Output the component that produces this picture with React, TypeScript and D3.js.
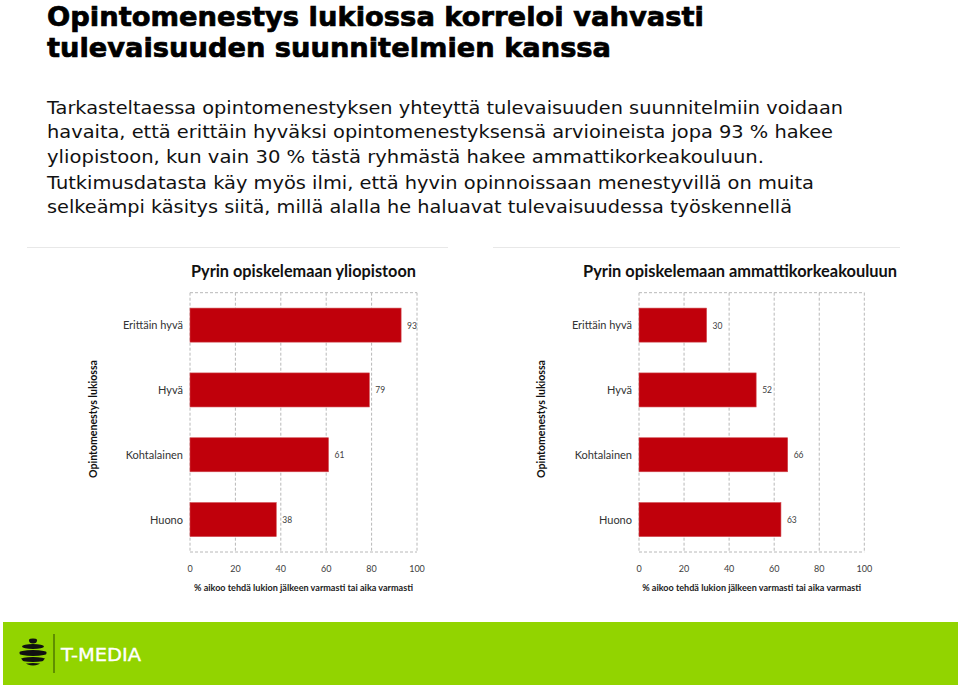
import React from "react";
import * as d3 from "d3";

const W = 960;
const H = 687;

const titleLines = [
  "Opintomenestys lukiossa korreloi vahvasti",
  "tulevaisuuden suunnitelmien kanssa",
];
const bodyLines = [
  "Tarkasteltaessa opintomenestyksen yhteyttä tulevaisuuden suunnitelmiin voidaan",
  "havaita, että erittäin hyväksi opintomenestyksensä arvioineista jopa 93 % hakee",
  "yliopistoon, kun vain 30 % tästä ryhmästä hakee ammattikorkeakouluun.",
  "Tutkimusdatasta käy myös ilmi, että hyvin opinnoissaan menestyvillä on muita",
  "selkeämpi käsitys siitä, millä alalla he haluavat tulevaisuudessa työskennellä",
];

const categories = ["Erittäin hyvä", "Hyvä", "Kohtalainen", "Huono"];
const yliopistoValues = [93, 79, 61, 38];
const amkValues = [30, 52, 66, 63];
const xTicks = [0, 20, 40, 60, 80, 100];
const chartTitles = ["Pyrin opiskelemaan yliopistoon", "Pyrin opiskelemaan ammattikorkeakouluun"];
const yAxisTitle = "Opintomenestys lukiossa";
const xAxisTitle = "% aikoo tehdä lukion jälkeen varmasti tai aika varmasti";

// layout
const titleLayout = [
  { y: 26, len: 657 },
  { y: 57, len: 564 },
];
const bodyLayout = [
  { y: 114, len: 796 },
  { y: 138, len: 786 },
  { y: 163, len: 717 },
  { y: 189, len: 767 },
  { y: 213, len: 745 },
];

const panels = [
  {
    values: yliopistoValues,
    title: chartTitles[0],
    x0: 190, x1: 417, top: 292.7, bottom: 552,
    titleX: 303.5, titleLen: 225, axisTitleLen: 219,
    yTitleX: 93, sepX0: 27, sepX1: 448,
  },
  {
    values: amkValues,
    title: chartTitles[1],
    x0: 639, x1: 864.3, top: 292.7, bottom: 552,
    titleX: 740, titleLen: 314, axisTitleLen: 219,
    yTitleX: 541, sepX0: 493, sepX1: 900,
  },
];

const chartFont = "Lato, 'Open Sans', sans-serif";

function Panel({ p }: { p: typeof panels[number] }) {
  const x = d3.scaleLinear().domain([0, 100]).range([p.x0, p.x1]);
  const y = d3.scaleBand<string>().domain(categories).range([p.top, p.bottom]).paddingInner(0.475).paddingOuter(0.2375);
  const cx = (p.x0 + p.x1) / 2;
  const gridColor = "#b8b8b8";
  return (
    <g>
      <line x1={p.sepX0} x2={p.sepX1} y1={247.5} y2={247.5} stroke="#e8e8e8" strokeWidth={1} />
      <text x={p.titleX} y={276.5} textAnchor="middle" fontFamily={chartFont} fontWeight={700} fontSize={17} fill="#111" textLength={p.titleLen} lengthAdjust="spacingAndGlyphs">
        {p.title}
      </text>
      {/* grid */}
      {xTicks.map((t) => (
        <line key={t} x1={x(t)} x2={x(t)} y1={p.top} y2={p.bottom} stroke={gridColor} strokeWidth={1} strokeDasharray="3,2" />
      ))}
      <line x1={p.x0} x2={p.x1} y1={p.top} y2={p.top} stroke={gridColor} strokeWidth={1} strokeDasharray="3,2" />
      <line x1={p.x0} x2={p.x1} y1={p.bottom} y2={p.bottom} stroke={gridColor} strokeWidth={1} strokeDasharray="3,2" />
      {/* bars */}
      {categories.map((c, i) => {
        const v = p.values[i];
        const by = y(c)!;
        const bh = y.bandwidth();
        return (
          <g key={c}>
            <rect x={x(0)} y={by} width={x(v) - x(0)} height={bh} fill="#c0000b" stroke="#d0494f" strokeWidth={0.6} />
            <text x={x(0) - 7} y={by + bh / 2 + 4} textAnchor="end" fontFamily={chartFont} fontSize={11} fill="#333">
              {c}
            </text>
            <text x={x(v) + 6} y={by + bh / 2 + 3.5} fontFamily={chartFont} fontSize={8.5} fill="#404040">
              {v}
            </text>
          </g>
        );
      })}
      {/* tick labels */}
      {xTicks.map((t) => (
        <text key={t} x={x(t)} y={571.5} textAnchor="middle" fontFamily={chartFont} fontSize={9} fill="#404040">
          {t}
        </text>
      ))}
      <text x={cx} y={591} textAnchor="middle" fontFamily={chartFont} fontWeight={700} fontSize={8.5} fill="#222" textLength={p.axisTitleLen} lengthAdjust="spacingAndGlyphs">
        {xAxisTitle}
      </text>
      <text transform={`translate(${p.yTitleX + 4},419) rotate(-90)`} textAnchor="middle" fontFamily={chartFont} fontWeight={700} fontSize={11} fill="#111" textLength={118} lengthAdjust="spacingAndGlyphs">
        {yAxisTitle}
      </text>
    </g>
  );
}

function Logo() {
  return (
    <g>
      <defs>
        <clipPath id="logoClip">
          <circle cx={33} cy={652} r={13.5} />
        </clipPath>
      </defs>
      <g clipPath="url(#logoClip)">
        <rect x={19} y={637} width={30} height={30} fill="#92d400" />
        <ellipse cx={33} cy={640.5} rx={4} ry={3} fill="#111" />
        <ellipse cx={33} cy={646.5} rx={11} ry={2.6} fill="#111" />
        <ellipse cx={33} cy={653} rx={15} ry={3} fill="#111" />
        <ellipse cx={33} cy={659.5} rx={13} ry={2.6} fill="#111" />
        <ellipse cx={33} cy={665} rx={9} ry={2} fill="#111" />
      </g>
      <line x1={54} x2={54} y1={634} y2={673} stroke="#2e4a00" strokeWidth={1} />
      <text x={61} y={660.5} fontFamily="'DejaVu Sans Condensed', Roboto, sans-serif" fontSize={18} fill="#fff" stroke="#fff" strokeWidth={0.3} textLength={80} lengthAdjust="spacingAndGlyphs">
        T-MEDIA
      </text>
    </g>
  );
}

export default function App() {
  return (
    <svg width={W} height={H} viewBox={`0 0 ${W} ${H}`} style={{ position: "absolute", left: 0, top: 0, background: "#fff" }}>
      <rect x={0} y={0} width={W} height={H} fill="#fff" />
      {titleLines.map((t, i) => (
        <text key={i} x={47} y={titleLayout[i].y} fontFamily="'DejaVu Sans', Verdana, sans-serif" fontWeight={700} fontSize={27} fill="#000" stroke="#000" strokeWidth={0.7} textLength={titleLayout[i].len} lengthAdjust="spacingAndGlyphs">
          {t}
        </text>
      ))}
      {bodyLines.map((t, i) => (
        <text key={i} x={47} y={bodyLayout[i].y} fontFamily="'DejaVu Sans', Verdana, sans-serif" fontSize={18.5} fill="#111" textLength={bodyLayout[i].len} lengthAdjust="spacingAndGlyphs">
          {t}
        </text>
      ))}
      {panels.map((p, i) => (
        <Panel key={i} p={p} />
      ))}
      <rect x={3} y={622} width={955} height={63} fill="#92d400" />
      <Logo />
    </svg>
  );
}
